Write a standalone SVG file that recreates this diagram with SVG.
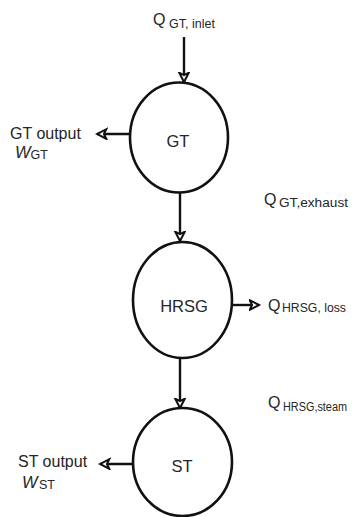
<svg xmlns="http://www.w3.org/2000/svg" width="356" height="517" viewBox="0 0 356 517">
  <style>
    .node { fill: #fff; stroke: #111; stroke-width: 2.6; }
    .flow { stroke: #111; stroke-width: 2.4; fill: none; marker-end: url(#head); }
    text { font-family: "Liberation Sans", Arial, sans-serif; fill: #262626; }
    .lbl { font-size: 16.5px; text-anchor: middle; }
    .q { font-size: 16px; }
    .sub { font-size: 12.5px; }
    .w { font-size: 16.5px; font-style: italic; }
    .wsub { font-size: 12.5px; font-style: normal; }
  </style>
  <defs>
    <marker id="head" markerUnits="userSpaceOnUse" markerWidth="13" markerHeight="13" refX="10.5" refY="6" orient="auto">
      <path d="M1.2,1.2 L10.5,6 L1.2,10.8 L3.6,6 z" fill="#fff" stroke="#111" stroke-width="2" stroke-linejoin="miter"/>
    </marker>
  </defs>

  <!-- connectors -->
  <g id="connectors">
    <line class="flow" x1="184" y1="37" x2="184" y2="82"/>
    <line class="flow" x1="180" y1="193" x2="180" y2="241"/>
    <line class="flow" x1="130" y1="134" x2="97" y2="134"/>
    <line class="flow" x1="232" y1="305" x2="259" y2="305"/>
    <line class="flow" x1="180" y1="358" x2="180" y2="408"/>
    <line class="flow" x1="133" y1="464" x2="100" y2="464"/>
  </g>

  <!-- gas turbine -->
  <g id="gt">
    <ellipse class="node" cx="179" cy="137.5" rx="49" ry="55"/>
    <text class="lbl" x="178" y="147">GT</text>
  </g>

  <!-- heat recovery steam generator -->
  <g id="hrsg">
    <ellipse class="node" cx="182.5" cy="300" rx="49.5" ry="58"/>
    <text class="lbl" x="184" y="312">HRSG</text>
  </g>

  <!-- steam turbine -->
  <g id="st">
    <ellipse class="node" cx="182.5" cy="462" rx="49.5" ry="54"/>
    <text class="lbl" x="182" y="472">ST</text>
  </g>

  <!-- flow labels -->
  <g id="labels">
    <text class="q" x="153" y="25">Q<tspan class="sub" x="169" y="28">GT, inlet</tspan></text>

    <text class="q" x="10" y="139">GT output</text>
    <text class="w" x="15" y="158">W<tspan class="wsub" dy="1">GT</tspan></text>

    <text class="q" x="264" y="205">Q<tspan class="sub" x="279" y="207" textLength="69" lengthAdjust="spacingAndGlyphs">GT,exhaust</tspan></text>

    <text class="q" x="268" y="311">Q<tspan class="sub" x="282" y="312" textLength="64" lengthAdjust="spacingAndGlyphs">HRSG, loss</tspan></text>

    <text class="q" x="268" y="408">Q<tspan class="sub" x="283" y="411" textLength="64" lengthAdjust="spacingAndGlyphs">HRSG,steam</tspan></text>

    <text class="q" x="18" y="467">ST output</text>
    <text class="w" x="22" y="488">W<tspan class="wsub" x="39" dy="1">ST</tspan></text>
  </g>
</svg>
